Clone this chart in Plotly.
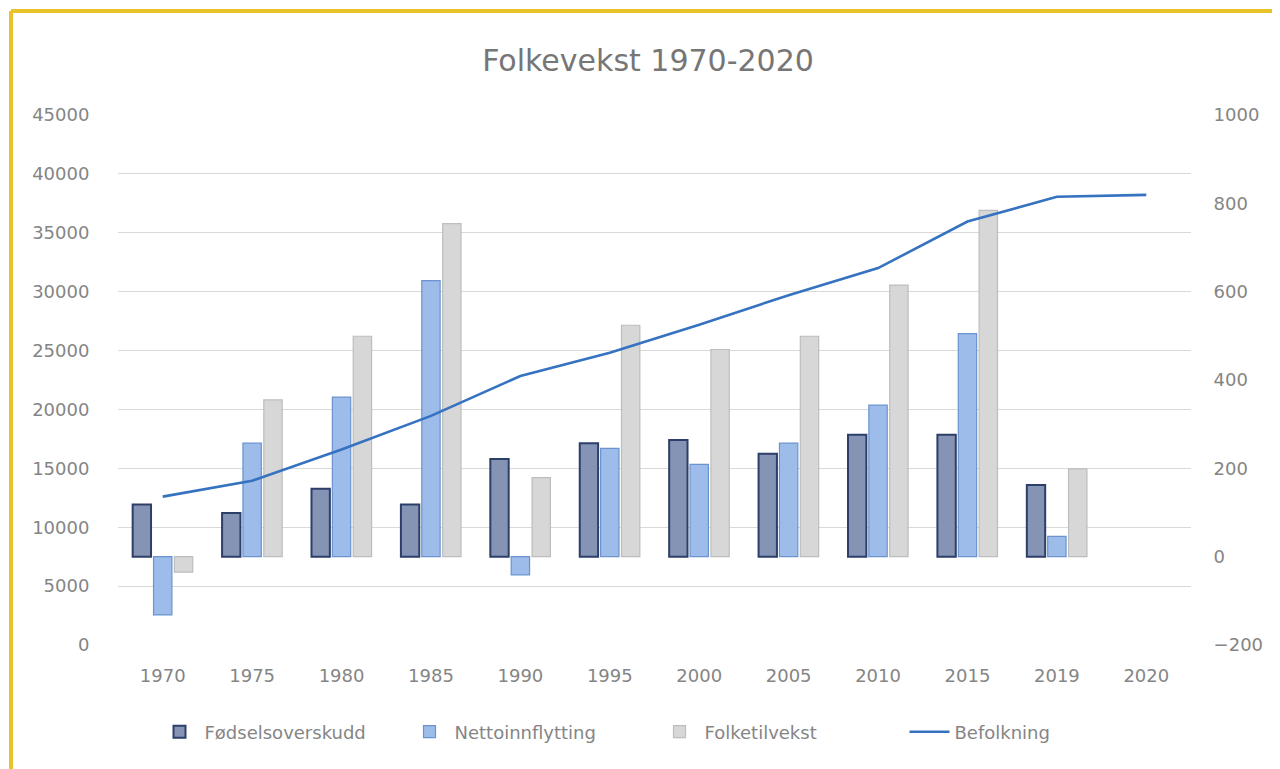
import plotly.graph_objects as go

years = ["1970", "1975", "1980", "1985", "1990", "1995", "2000", "2005", "2010", "2015", "2019", "2020"]
fodselsoverskudd = [118, 99, 154, 118, 221, 257, 264, 233, 276, 276, 162, None]
nettoinnflytting = [-132, 257, 361, 625, -41, 245, 209, 257, 343, 505, 46, None]
folketilvekst = [-35, 355, 499, 754, 179, 524, 469, 499, 615, 784, 199, None]
befolkning = [12600, 13950, 16600, 19450, 22840, 24820, 27200, 29700, 32000, 35950, 38060, 38220]

# page offset of the figure (body margin)
OFF = 8
W, H = 1280 - OFF, 769 - OFF
# plot area in page coordinates
L, R, T, B = 118, 1191, 115, 645

def px(x):
    return (x - L) / (R - L)

def py(y):
    return (B - y) / (B - T)

grey_text = "#858585"
font_family = "DejaVu Sans, Verdana, sans-serif"

fig = go.Figure()
fig.add_trace(go.Bar(
    x=years, y=fodselsoverskudd, name="Fødselsoverskudd",
    marker=dict(color="#8593b4", line=dict(color="#2c3f68", width=2)),
    yaxis="y",
))
fig.add_trace(go.Bar(
    x=years, y=nettoinnflytting, name="Nettoinnflytting",
    marker=dict(color="#9dbce9", line=dict(color="#6a93cf", width=1.2)),
    yaxis="y",
))
fig.add_trace(go.Bar(
    x=years, y=folketilvekst, name="Folketilvekst",
    marker=dict(color="#d7d7d7", line=dict(color="#bdbdbd", width=1.2)),
    yaxis="y",
))
fig.add_trace(go.Scatter(
    x=years, y=befolkning, name="Befolkning", mode="lines",
    line=dict(color="#3572c0", width=2.6),
    yaxis="y2",
))

fig.update_layout(
    width=W, height=H,
    margin=dict(l=L - OFF, r=W - (R - OFF), t=T - OFF, b=H - (B - OFF)),
    paper_bgcolor="white", plot_bgcolor="white",
    font=dict(family=font_family, color=grey_text, size=18),
    title=dict(text="Folkevekst 1970-2020", x=(648 - OFF) / W, xanchor="center",
               y=1 - (60 - OFF) / H, yanchor="middle",
               font=dict(size=30, color="#767676", family=font_family)),
    barmode="group", bargap=0.3, bargroupgap=0.12,
    xaxis=dict(type="category", showgrid=False, showline=False, zeroline=False,
               ticks="outside", ticklen=14, tickcolor="rgba(0,0,0,0)",
               tickfont=dict(size=18, color=grey_text)),
    yaxis=dict(side="right", range=[-200, 1000], dtick=200, showgrid=False,
               zeroline=False, showline=False, ticks="outside", ticklen=18,
               tickcolor="rgba(0,0,0,0)", tickfont=dict(size=18, color=grey_text)),
    yaxis2=dict(side="left", overlaying="y", range=[0, 45000], dtick=5000,
                tickformat="d",
                showgrid=True, gridcolor="#d9d9d9", gridwidth=1.2, zeroline=False,
                showline=False, ticks="outside", ticklen=24,
                tickcolor="rgba(0,0,0,0)", tickfont=dict(size=18, color=grey_text)),
    legend=dict(orientation="h", x=0.5, xanchor="center", y=py(732), yanchor="middle",
                font=dict(size=18, color=grey_text), traceorder="normal",
                itemwidth=40, entrywidth=195, entrywidthmode="pixels"),
    showlegend=True,
    shapes=[
        dict(type="line", xref="paper", yref="paper", x0=px(11), x1=px(1295),
             y0=py(11), y1=py(11), line=dict(color="#e8c42a", width=4)),
        dict(type="line", xref="paper", yref="paper", x0=px(11), x1=px(11),
             y0=py(11), y1=py(790), line=dict(color="#e8c42a", width=4)),
    ],
)

fig.write_html("out.html")
